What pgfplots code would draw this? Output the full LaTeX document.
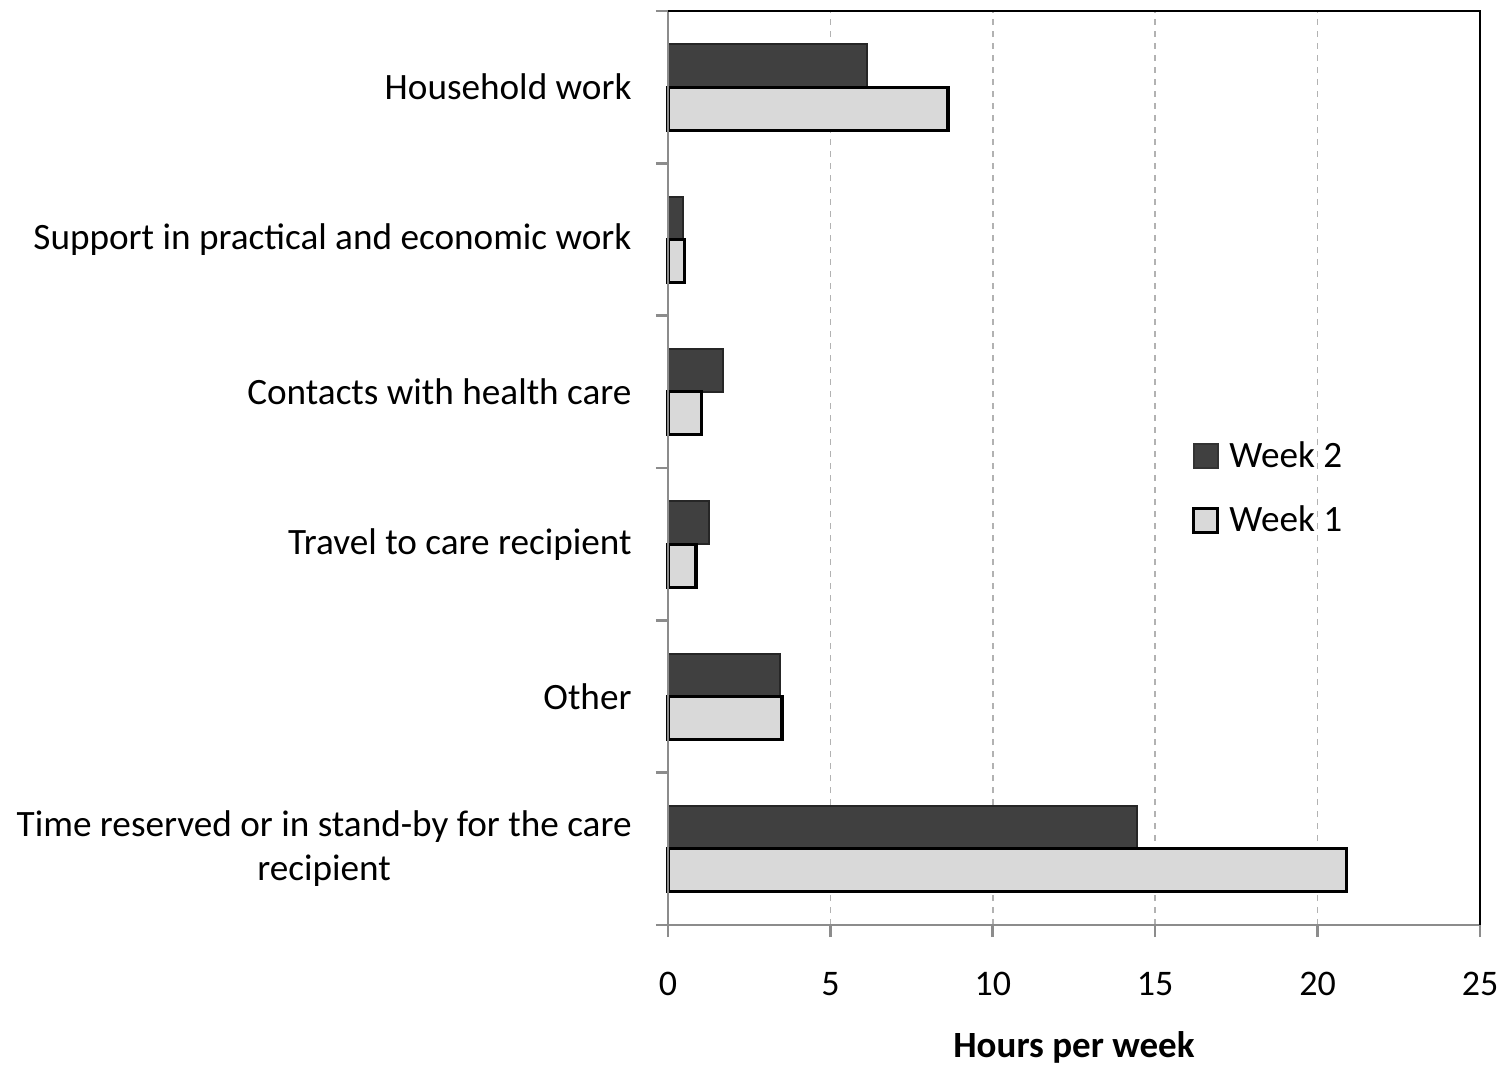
\documentclass[border=0pt]{standalone}
\usepackage{pgfplots}
\pgfplotsset{compat=1.18}
\usepackage{fontspec}
\setmainfont{Carlito}
\definecolor{wk2}{HTML}{404040}
\definecolor{wk1}{HTML}{D9D9D9}
\definecolor{axgray}{HTML}{8C8C8C}
\begin{document}
\begin{tikzpicture}
\useasboundingbox (-334pt,-70.5pt) rectangle (417.5pt,462.5pt);
\begin{axis}[
  at={(0,0)}, anchor=south west,
  scale only axis, width=406pt, height=457pt,
  xmin=0, xmax=25, ymin=-0.5, ymax=5.5,
  clip=false,
  axis line style={draw=none},
  xtick={0,5,...,25},
  ytick={-0.5,0.5,...,5.5},
  xtick pos=bottom, ytick pos=left,
  y tick label as interval,
  yticklabels={{Time reserved or in stand-by for the care\\recipient}, Other, Travel to care recipient, Contacts with health care, Support in practical and economic work, Household work},
  tick align=outside,
  major tick length=6pt,
  tick style={axgray, line width=1.3pt},
  xmajorgrids,
  major grid style={dashed, gray!60, line width=0.8pt},
  /pgf/number format/assume math mode=true,
  xticklabel style={font=\fontsize{18pt}{21pt}\selectfont, yshift=-14pt},
  yticklabel style={font=\fontsize{18.6pt}{22pt}\selectfont, align=center, xshift=-8.7pt},
  xlabel={\bfseries Hours per week},
  xlabel style={at={(axis description cs:0.5,-0.1335)}, anchor=center, font=\fontsize{18.5pt}{22pt}\selectfont},
  legend style={at={(rel axis cs:0.645,0.478)}, anchor=west, draw=none, fill=none,
    font=\fontsize{18.6pt}{22pt}\selectfont, row sep=14pt, inner sep=0pt},
  legend cell align=left,
]
\addplot[xbar, bar width=21.5pt, bar shift=10.75pt, fill=wk2, draw=black!85, line width=1pt,
  legend image code/.code={\draw[fill=wk2, draw=black!80, line width=1pt] (0pt,-6pt) rectangle (12pt,6pt); \path (15pt,0pt);}]
  coordinates {(6.12,5) (0.45,4) (1.70,3) (1.26,2) (3.45,1) (14.44,0)};
\addlegendentry{Week 2}
\addplot[xbar, bar width=21.5pt, bar shift=-10.75pt, fill=wk1, draw=black, line width=1.6pt,
  legend image code/.code={\draw[fill=wk1, draw=black, line width=1.6pt] (0pt,-6pt) rectangle (12pt,6pt); \path (15pt,0pt);}]
  coordinates {(8.62,5) (0.50,4) (1.02,3) (0.86,2) (3.51,1) (20.88,0)};
\addlegendentry{Week 1}
\draw[axgray, line width=1.3pt] (rel axis cs:0,0) -- (rel axis cs:0,1);
\draw[axgray, line width=1.3pt] (rel axis cs:0,0) -- (rel axis cs:1,0);
\draw[black, line width=1.3pt] (rel axis cs:0,1) -- (rel axis cs:1,1) -- (rel axis cs:1,0);
\end{axis}
\end{tikzpicture}
\end{document}
